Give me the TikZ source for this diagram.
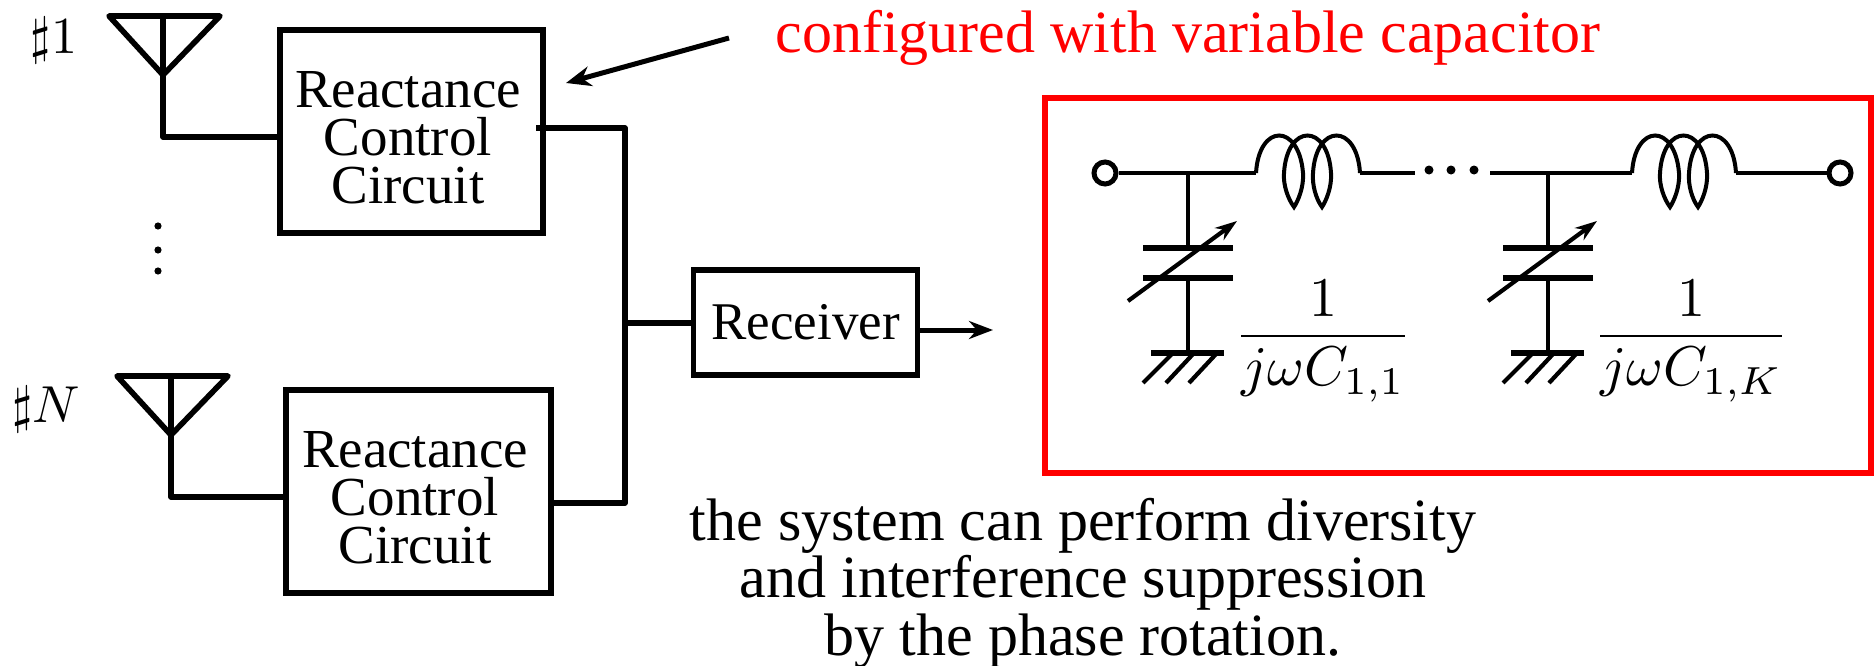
\documentclass[tikz,border=0pt]{standalone}
\usepackage{fontspec}
\setmainfont{Liberation Serif}
\usetikzlibrary{arrows.meta,shapes.geometric}
\definecolor{redbox}{RGB}{255,0,0}
\tikzset{
  x=1pt,y=-1pt,
  wire/.style={line width=5.6pt,line join=round,line cap=butt},
  thin wire/.style={line width=3.8pt},
  blk/.style={draw,line width=5.8pt,align=center,inner sep=0pt,font=\fontsize{55}{48}\selectfont},
  lbl/.style={inner sep=0pt,align=center},
  bigarrow/.style={line width=5pt,-{Stealth[length=25pt,width=20pt]}},
  smallarrow/.style={line width=5pt,-{Stealth[length=24pt,width=18pt]}},
  pics/inductor/.style={code={
    \draw[line width=4pt,line join=miter]
      (0,0) .. controls (3,-50) and (43,-50) .. (47,0)
      .. controls (48,14) and (42,28) .. (38,34)
      .. controls (32,26) and (27,12) .. (28,0)
      .. controls (31,-50) and (72,-50) .. (75,0)
      .. controls (76,14) and (70,28) .. (66,34)
      .. controls (60,26) and (56,12) .. (57,0)
      .. controls (60,-50) and (101,-50) .. (104,0);
  }},
  pics/varcap/.style={code={
    \draw[line width=5.4pt] (-45,0) -- (45,0);
    \draw[line width=5.4pt] (-45,30) -- (45,30);
    \draw[line width=4.2pt,-{Stealth[length=22pt,width=15pt]}] (-60,53) -- (49,-27);
    \draw[line width=5.4pt] (-37,105) -- (36,105);
    \draw[line width=4.2pt] (-15,105) -- (-45,135);
    \draw[line width=4.2pt] (6,105) -- (-22,135);
    \draw[line width=4.2pt] (29,105) -- (1,135);
  }}
}
\begin{document}
\begin{tikzpicture}
\useasboundingbox (0,0) rectangle (1874,666);
% antennas
\coordinate (a1l) at (109,16); \coordinate (a1r) at (220,16);
\coordinate (a1t) at (163,16); \coordinate (a1a) at (163,75); \coordinate (a1b) at (163,137);
\draw[wire] (a1l) -- (a1r) -- (a1a) -- cycle;
\draw[wire] (a1t) -- (a1a);
\coordinate (aNl) at (117,376); \coordinate (aNr) at (228,376);
\coordinate (aNt) at (171,376); \coordinate (aNa) at (171,435); \coordinate (aNb) at (171,497);
\draw[wire] (aNl) -- (aNr) -- (aNa) -- cycle;
\draw[wire] (aNt) -- (aNa);
% blocks
\node[blk,minimum width=263pt,minimum height=203pt] (rcc1) at (411.5,131.5)
  {\rule{0pt}{10pt}\\[-10pt]\hspace*{-7pt}Reactance\\\hspace*{-7pt}Control\\\hspace*{-7pt}Circuit};
\node[blk,minimum width=265pt,minimum height=203pt] (rccN) at (418.5,491.5)
  {\rule{0pt}{10pt}\\[-10pt]\hspace*{-7pt}Reactance\\\hspace*{-7pt}Control\\\hspace*{-7pt}Circuit};
\node[blk,font=\fontsize{53}{48}\selectfont,minimum width=224pt,minimum height=105pt] (rx) at (805.5,322.5) {Receiver};
% connectors left
\coordinate (c1) at (536,128); \coordinate (bus1) at (625,128);
\coordinate (busN) at (625,503); \coordinate (busM) at (625,323);
\draw[wire] (a1a) -- (a1b) -- (rcc1.west |- a1b);
\draw[wire] (aNa) -- (aNb) -- (rccN.west |- aNb);
\draw[wire] (c1) -- (bus1) -- (busN) -- (rccN.east |- busN);
\draw[wire] (busM) -- (rx.west |- busM);
\coordinate (rxout) at (993,330);
\draw[smallarrow] (rx.east |- rxout) -- (rxout);
\coordinate (capA) at (729,38); \coordinate (capB) at (566,83);
\draw[bigarrow] (capA) -- (capB);
% ellipsis
\fill (158,226) circle (3.6pt) (158,250) circle (3.6pt) (158,271) circle (3.6pt);
% labels
\node[lbl,anchor=base] (n1) at (54,54) {\scalebox{5.2}{$\sharp 1$}};
\node[lbl,anchor=base] (nN) at (46,422) {\scalebox{5.2}{$\sharp N$}};
\node[lbl,anchor=base,text=redbox,font=\fontsize{60}{60}\selectfont] (cfg) at (1188,53) {configured with variable capacitor};
\node[lbl,anchor=base,font=\fontsize{60}{58}\selectfont] (t1) at (1083,540) {the system can perform diversity};
\node[lbl,anchor=base,font=\fontsize{60}{58}\selectfont] (t2) at (1083,597) {and interference suppression};
\node[lbl,anchor=base,font=\fontsize{60}{58}\selectfont] (t3) at (1083,655) {by the phase rotation.};
% red box
\node[draw=redbox,line width=5.5pt,minimum width=826pt,minimum height=375pt,inner sep=0pt] (rb) at (1458,285.5) {};
% circuit
\node[draw,circle,line width=5pt,minimum size=22pt,inner sep=0pt] (tl) at (1105,173) {};
\node[draw,circle,line width=5pt,minimum size=22pt,inner sep=0pt] (tr) at (1840,173) {};
\coordinate (l1s) at (1256,173); \coordinate (l1e) at (1360,173);
\coordinate (w2s) at (1415,173); \coordinate (w3s) at (1490,173);
\coordinate (l2s) at (1632,173); \coordinate (l2e) at (1736,173);
\pic at (l1s) {inductor}; \pic at (l2s) {inductor};
\draw[line width=4.8pt] (tl) -- (l1s);
\draw[line width=4.8pt] (l1e) -- (w2s);
\draw[line width=4.8pt] (w3s) -- (l2s);
\draw[line width=4.8pt] (l2e) -- (tr);
\fill (1429,170) circle (4.5pt) (1451,170) circle (4.5pt) (1474,170) circle (4.5pt);
\coordinate (s1t) at (1188,173); \coordinate (s2t) at (1548,173);
\coordinate (s1a) at (1188,248); \coordinate (s1b) at (1188,278); \coordinate (s1g) at (1188,353);
\coordinate (s2a) at (1548,248); \coordinate (s2b) at (1548,278); \coordinate (s2g) at (1548,353);
\pic at (s1a) {varcap}; \pic at (s2a) {varcap};
\draw[thin wire] (s1t) -- (s1a) (s1b) -- (s1g);
\draw[thin wire] (s2t) -- (s2a) (s2b) -- (s2g);
\node[lbl,anchor=base] (f1) at (1323,350) {\scalebox{5.6}{$\displaystyle\frac{\raisebox{-.8pt}{$1$}}{\raisebox{.5pt}{$j\omega C_{1,1}$}}$}};
\node[lbl,anchor=base] (f2) at (1691,350) {\scalebox{5.6}{$\displaystyle\frac{\raisebox{-.8pt}{$1$}}{\raisebox{.5pt}{$j\omega C_{1,K}$}}$}};
\end{tikzpicture}
\end{document}
